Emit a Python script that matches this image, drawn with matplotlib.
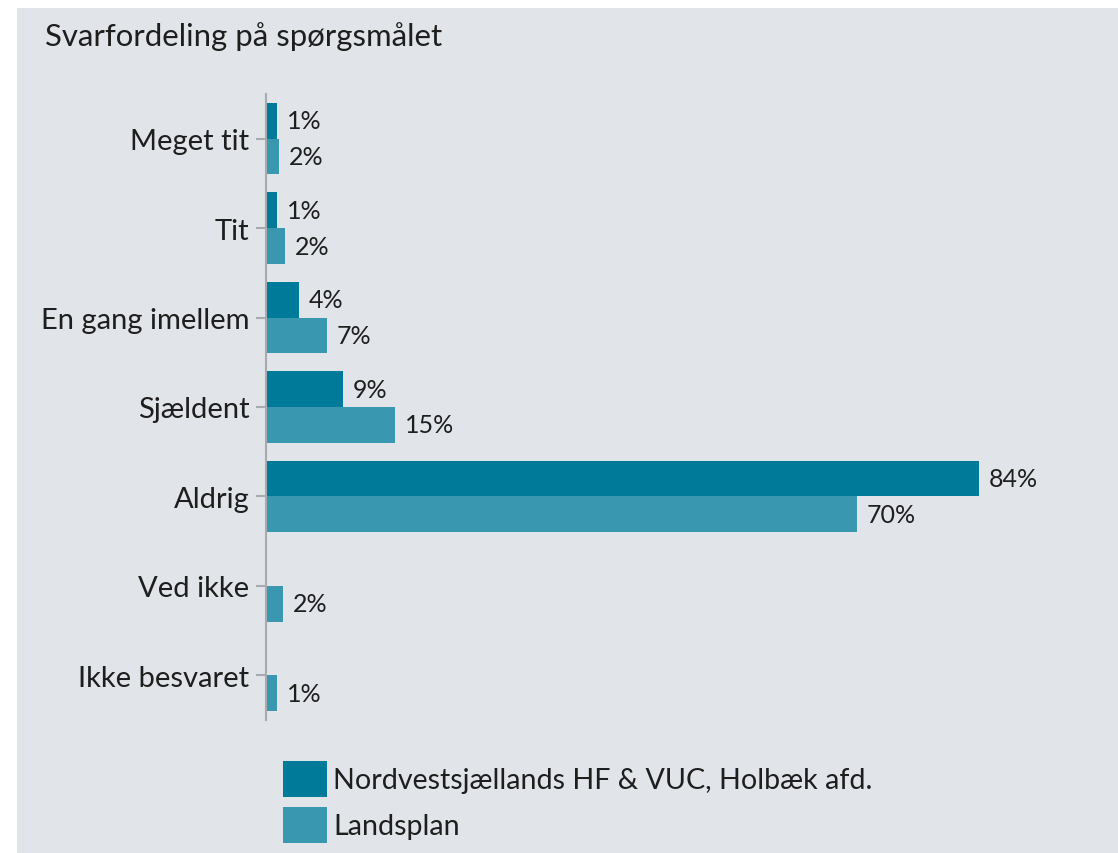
import matplotlib.pyplot as plt
from matplotlib.patches import Patch, Rectangle
import numpy as np

plt.rcParams['font.family'] = ['Lato', 'DejaVu Sans']

kategorier = ["Meget tit", "Tit", "En gang imellem", "Sjældent", "Aldrig", "Ved ikke", "Ikke besvaret"]
skole = [1.3, 1.3, 3.9, 9.1, 84.0, 0, 0]
landsplan = [1.5, 2.2, 7.2, 15.2, 69.6, 2.0, 1.3]
serier = ["Nordvestsjællands HF & VUC, Holbæk afd.", "Landsplan"]

mork = "#007A99"
lys = "#3A97B0"
tekst = "#1E1E1E"
graa = "#A7ABAF"

fig = plt.figure(figsize=(11.18, 8.54), dpi=100, facecolor="white")
# grå baggrund med hvid kant foroven og til venstre
fig.patches.append(Rectangle((17 / 1118, 0), 1, 1 - 9 / 854, transform=fig.transFigure,
                             facecolor="#E1E5E9", edgecolor="none", zorder=-10))

ax = fig.add_axes([266 / 1118, 1 - 721 / 854, 849 / 1118, 626 / 854])
ax.set_facecolor("none")

y = np.arange(len(kategorier))
b1 = ax.barh(y - 0.2, skole, height=0.4, color=mork, label=serier[0])
b2 = ax.barh(y + 0.2, landsplan, height=0.4, color=lys, label=serier[1])

def etiketter(vals):
    return [f"{round(v)}%" if v > 0 else "" for v in vals]

ax.bar_label(b1, labels=etiketter(skole), padding=7, fontsize=18, color=tekst)
ax.bar_label(b2, labels=etiketter(landsplan), padding=7, fontsize=18, color=tekst)

ax.set_xlim(0, 100)
ax.set_ylim(len(kategorier) - 0.5, -0.5)
ax.set_yticks(y)
ax.set_yticklabels(kategorier, fontsize=21, color=tekst)
ax.set_xticks([])
ax.tick_params(axis="y", length=7, width=1.5, color=graa, pad=5)
for s in ["top", "right", "bottom"]:
    ax.spines[s].set_visible(False)
ax.spines["left"].set_color(graa)
ax.spines["left"].set_linewidth(1.5)

fig.text(45 / 1118, 1 - 37 / 854, "Svarfordeling på spørgsmålet", fontsize=22.4,
         color=tekst, va="center", ha="left")

handles = [Patch(facecolor=mork), Patch(facecolor=lys)]
fig.legend(handles, serier, loc="upper left", bbox_to_anchor=(283 / 1118, 1 - 762 / 854),
           frameon=False, fontsize=20.6, handlelength=1.55, handleheight=1.55,
           handletextpad=0.2, labelspacing=0.35, labelcolor=tekst, borderpad=0,
           borderaxespad=0)

fig.savefig("out.png", dpi=100, facecolor=fig.get_facecolor())
